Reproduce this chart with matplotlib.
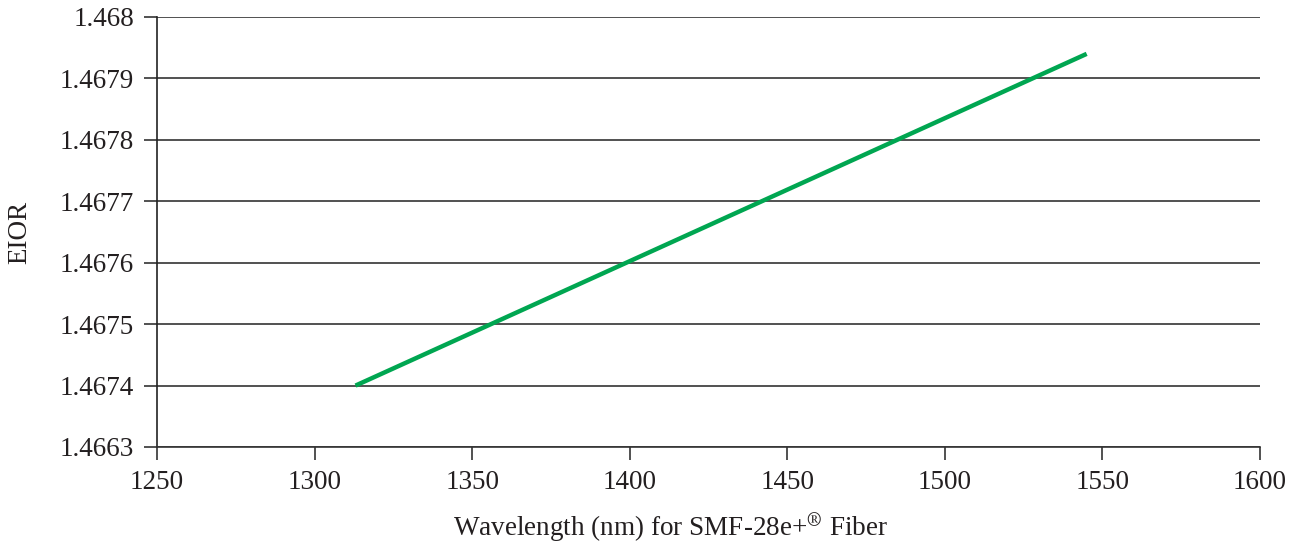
import matplotlib
matplotlib.use('Agg')
from matplotlib import pyplot as plt

# Data
wavelengths = [1313, 1545]
eior = [1.4674, 1.46794]

x_ticks = [1250, 1300, 1350, 1400, 1450, 1500, 1550, 1600]
y_ticks = [1.4673, 1.4674, 1.4675, 1.4676, 1.4677, 1.4678, 1.4679, 1.4680]
y_labels = ['1.4663', '1.4674', '1.4675', '1.4676', '1.4677', '1.4678', '1.4679', '1.468']

plt.rcParams['font.family'] = ['Liberation Serif', 'DejaVu Serif']
plt.rcParams['mathtext.fontset'] = 'stix'

fig = plt.figure(figsize=(13.02, 5.47), dpi=100)
ax = fig.add_axes([157 / 1302, 1 - 447 / 547, (1260 - 157) / 1302, (447 - 17) / 547])

ax.plot(wavelengths, eior, c='#00a651', linewidth=3.2, solid_capstyle='butt', zorder=3)

ax.set_xlim(1250, 1600)
ax.set_ylim(1.4673, 1.4680)
ax.set_xticks(x_ticks)
ax.set_yticks(y_ticks)
ax.set_yticklabels(y_labels)

ax.yaxis.grid(True, color='#333333', linewidth=1.2)
ax.set_axisbelow(True)
for s in ['top', 'right']:
    ax.spines[s].set_visible(False)
ax.spines['left'].set_color('#222222')
ax.spines['bottom'].set_color('#333333')
ax.spines['left'].set_linewidth(1.2)
ax.spines['bottom'].set_linewidth(1.2)

ax.tick_params(axis='both', which='major', labelsize=19.5, length=9.5, width=1.2,
               color='#333333', labelcolor='#231f20', pad=7)

ax.set_xlabel('Wavelength (nm) for SMF-28e+$^{\\mathrm{\u00ae}}$ Fiber', fontsize=19.5,
              color='#231f20', va='center')
ax.xaxis.set_label_coords((671 - 157) / 1103, (447 - 527) / 430)
ax.set_ylabel('EIOR', fontsize=19.5, color='#231f20', va='center')
ax.yaxis.set_label_coords((20 - 157) / 1103, 0.5)

fig.savefig('out.png', dpi=100)
